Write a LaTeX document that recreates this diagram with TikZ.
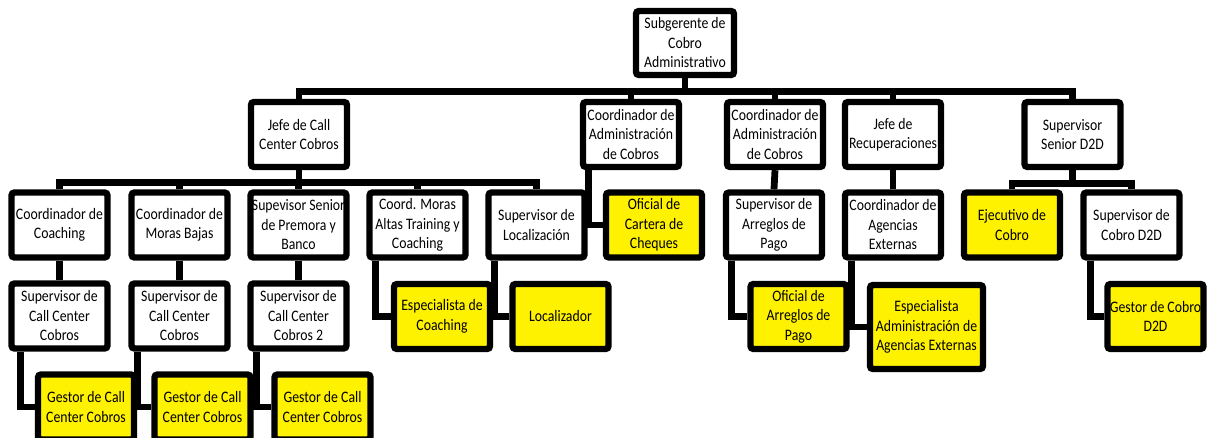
\documentclass[tikz,border=0pt]{standalone}
\usepackage{fontspec}
\setmainfont{Carlito}[FakeStretch=0.86]
\usetikzlibrary{calc}

\tikzset{
  box/.style={draw, line width=3.2pt, rounded corners=1.5pt, fill=white, inner sep=0pt,
    align=center, minimum width=48pt, minimum height=32.5pt,
    font=\fontsize{8}{9.75}\selectfont},
  hibox/.style={box, fill=yellow},
  link/.style={line width=3.4pt}
}

\begin{document}
\begin{tikzpicture}[x=0.5pt,y=-0.5pt]
\useasboundingbox (0,0) rectangle (1212,438);

% top
\node[box, minimum width=49pt, minimum height=32pt] (sub) at (685,43) {Subgerente de\\Cobro\\Administrativo};

% level 1
\node[box] (jefecc) at (299,134.5) {Jefe de Call\\Center Cobros};
\node[box] (coadm1) at (631,134.5) {Coordinador de\\Administración\\de Cobros};
\node[box] (coadm2) at (775,134.5) {Coordinador de\\Administración\\de Cobros};
\node[box] (jeferec) at (893,134.5) {Jefe de\\Recuperaciones};
\node[box] (supd2d) at (1072.5,134.5) {Supervisor\\Senior D2D};

% level 2
\node[box] (coach) at (59.5,225) {Coordinador de\\Coaching};
\node[box] (mbajas) at (179.5,225) {Coordinador de\\Moras Bajas};
\node[box] (premora) at (298.5,225) {Supevisor Senior\\de Premora y\\Banco};
\node[box] (maltas) at (417.5,225) {Coord. Moras\\Altas Training y\\Coaching};
\node[box] (loc) at (536.5,225) {Supervisor de\\Localización};
\node[hibox] (ofcart) at (654,225) {Oficial de\\Cartera de\\Cheques};
\node[box] (suparr) at (774,225) {Supervisor de\\Arreglos de\\Pago};
\node[box] (coage) at (893,225) {Coordinador de\\Agencias\\Externas};
\node[hibox] (ejec) at (1012,225) {Ejecutivo de\\Cobro};
\node[box] (supcd2d) at (1131.5,225) {Supervisor de\\Cobro D2D};

% level 3
\node[box] (supcc1) at (59.5,316) {Supervisor de\\Call Center\\Cobros};
\node[box] (supcc2) at (179.5,316) {Supervisor de\\Call Center\\Cobros};
\node[box] (supcc3) at (298.5,316) {Supervisor de\\Call Center\\Cobros 2};
\node[hibox] (espcoach) at (442,316.5) {Especialista de\\Coaching};
\node[hibox] (locz) at (560.5,316.5) {Localizador};
\node[hibox] (ofarr) at (798.5,316.5) {Oficial de\\Arreglos de\\Pago};
\node[hibox, minimum width=56.5pt, minimum height=42pt] (espadm) at (926.5,327) {Especialista\\Administración de\\Agencias Externas};
\node[hibox] (gestd2d) at (1155.5,316.5) {Gestor de Cobro\\D2D};

% level 4
\node[hibox] (gestcc1) at (86,407) {Gestor de Call\\Center Cobros};
\node[hibox] (gestcc2) at (202.5,407) {Gestor de Call\\Center Cobros};
\node[hibox] (gestcc3) at (322.5,407) {Gestor de Call\\Center Cobros};

% buses
\draw[link] (sub.south) -- ++(0,13) coordinate (b0);
\foreach \n in {jefecc,coadm1,coadm2,jeferec,supd2d}
  \draw[link] (b0) -| (\n.north);

\draw[link] (jefecc.south) -- ++(0,12) coordinate (b1);
\foreach \n in {coach,mbajas,premora,maltas,loc}
  \draw[link] (b1) -| (\n.north);

\draw[link] (supd2d.south) -- ++(0,13) coordinate (b2);
\foreach \n in {ejec,supcd2d}
  \draw[link] (b2) -| (\n.north);

% straight drops
\draw[link] (coadm2.south) -- (suparr.north);
\draw[link] (jeferec.south) -- (coage.north);
\draw[link] (coach.south) -- (supcc1.north);
\draw[link] (mbajas.south) -- (supcc2.north);
\draw[link] (premora.south) -- (supcc3.north);

% side links
\draw[link] ([xshift=4.5pt]coadm1.south west) |- (ofcart.west);
\draw[link] ([xshift=4.5pt]maltas.south west) |- (espcoach.west);
\draw[link] ([xshift=4.5pt]loc.south west) |- (locz.west);
\draw[link] ([xshift=4.5pt]suparr.south west) |- (ofarr.west);
\draw[link] ([xshift=5pt]coage.south west) |- (espadm.west);
\draw[link] ([xshift=5pt]supcd2d.south west) |- (gestd2d.west);
\draw[link] ([xshift=6pt]supcc1.south west) |- (gestcc1.west);
\draw[link] ([xshift=4.5pt]supcc2.south west) |- (gestcc2.west);
\draw[link] ([xshift=4.5pt]supcc3.south west) |- (gestcc3.west);
\end{tikzpicture}
\end{document}
